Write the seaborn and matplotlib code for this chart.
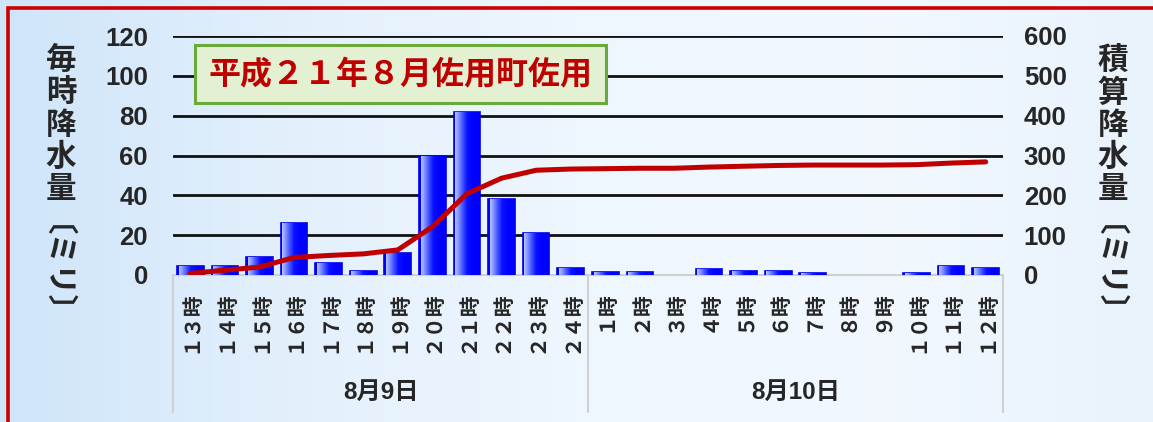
import numpy as np
import matplotlib
matplotlib.use("Agg")
import matplotlib.pyplot as plt
import matplotlib.transforms as mtrans
from matplotlib.patches import Rectangle
from matplotlib.colors import LinearSegmentedColormap
import seaborn as sns
import pandas as pd

# ---------------- data ----------------
hours = ["１３時", "１４時", "１５時", "１６時", "１７時", "１８時", "１９時", "２０時",
         "２１時", "２２時", "２３時", "２４時",
         "１時", "２時", "３時", "４時", "５時", "６時", "７時", "８時", "９時",
         "１０時", "１１時", "１２時"]
hourly = [4.5, 4.5, 9, 26, 6, 2, 11, 60, 82, 38, 21, 3.5,
          1.5, 1.5, 0, 3, 2, 2, 1, 0, 0, 1, 4.5, 3.5]
cumulative = [4, 12, 20, 44, 49, 53, 63, 121, 204, 243, 263, 266,
              267, 268, 268, 271, 273, 275, 276, 276, 276, 277, 281, 284]
dates = ["8月9日", "8月10日"]
hours_per_date = [12, 12]
left_ticks = [0, 20, 40, 60, 80, 100, 120]
right_ticks = [0, 100, 200, 300, 400, 500, 600]
title_text = "平成２１年８月佐用町佐用"
left_label = "毎時降水量"
right_label = "積算降水量"
unit_label = "〔ミリ〕"

# ---------------- style ----------------
sns.set_theme(style="white")
plt.rcParams["font.family"] = ["Liberation Sans", "Noto Sans CJK JP", "DejaVu Sans"]
CJK = ["Noto Sans CJK JP", "DejaVu Sans"]

W, H = 1153, 422
fig = plt.figure(figsize=(W / 100, H / 100), dpi=100)

# background gradient
bg = fig.add_axes([0, 0, 1, 1], zorder=-10)
bg.set_axis_off()
cmap_bg = LinearSegmentedColormap.from_list(
    "bg", ["#cfe5fa", "#e3f0fc", "#eef6fe", "#f2f8fe", "#e9f3fc"])
grad = np.tile(np.linspace(0, 1, 256), (2, 1))
bg.imshow(grad, aspect="auto", cmap=cmap_bg, extent=[0, 1, 0, 1])
bg.set_xlim(0, 1)
bg.set_ylim(0, 1)
# red frame
fig.patches.append(Rectangle((7.5 / W, -0.1), 1.2, 1 - 7.5 / H + 0.1,
                             transform=fig.transFigure, fill=False,
                             edgecolor="#cc0000", linewidth=2.6, zorder=-5))

# main axes
x0, x1 = 173 / W, 1003 / W
ytop, ybot = 1 - 36 / H, 1 - 275 / H
ax = fig.add_axes([x0, ybot, x1 - x0, ytop - ybot])
ax.patch.set_alpha(0)

df = pd.DataFrame({"hour": hours, "hourly": hourly, "cumulative": cumulative})

sns.barplot(data=df, x="hour", y="hourly", order=hours, color="#0000ff",
            width=0.77, edgecolor="#0000ee", linewidth=1.2, saturation=1,
            ax=ax, zorder=3)

# gradient shading inside bars
cmap_bar = LinearSegmentedColormap.from_list(
    "bar", ["#b8c4ff", "#5a6cff", "#0a14ff", "#0000ff", "#0000ff"])
bar_grad = np.tile(np.linspace(0, 1, 64), (2, 1))
for p in list(ax.patches):
    bx, by = p.get_x(), p.get_y()
    bw, bh = p.get_width(), p.get_height()
    if bh <= 0:
        p.set_linewidth(0)
        continue
    inset = bw * 0.06
    im = ax.imshow(bar_grad, cmap=cmap_bar, aspect="auto",
                   extent=[bx + inset, bx + bw - inset, by, by + bh],
                   zorder=3.5, interpolation="bilinear")
    im.set_clip_path(p)

ax.set_xlim(-0.5, len(hours) - 0.5)
ax.set_ylim(0, 120)
ax.set_yticks(left_ticks)
ax.set_yticklabels([str(v) for v in left_ticks], fontsize=18.5, fontweight="bold",
                   family=["Liberation Sans"])
ax.tick_params(axis="y", length=0, pad=18)
ax.set_xticks(range(len(hours)))
ax.set_xticklabels(hours, rotation=90, fontsize=15, fontweight="bold", family=CJK)
ax.tick_params(axis="x", length=0, pad=11)
ax.set_xlabel("")
ax.set_ylabel("")
for s in ["top", "right", "left"]:
    ax.spines[s].set_visible(False)
ax.spines["bottom"].set_color("#d0d0d0")
ax.spines["bottom"].set_linewidth(1.5)
ax.set_axisbelow(True)
for v in left_ticks[1:]:
    ax.axhline(v, color="#111111", linewidth=2, zorder=1)

# category group separators and date labels
trans = mtrans.blended_transform_factory(ax.transData, ax.transAxes)
bounds = np.concatenate([[0], np.cumsum(hours_per_date)]) - 0.5
for b in bounds:
    ax.plot([b, b], [0, -0.575], transform=trans, color="#d0d0d0",
            linewidth=1.5, clip_on=False)
for i, d in enumerate(dates):
    c = (bounds[i] + bounds[i + 1]) / 2
    ax.text(c, -0.49, d, transform=trans, ha="center", va="center",
            fontsize=17.5, fontweight="bold", family=["Liberation Sans", "Noto Sans CJK JP"])

# secondary axis: cumulative line
ax2 = ax.twinx()
sns.pointplot(data=df, x="hour", y="cumulative", order=hours, color="#c00000",
              markers="", linestyles="-", ax=ax2)
for ln in ax2.lines:
    ln.set_linewidth(3.6)
    ln.set_solid_capstyle("round")
    ln.set_solid_joinstyle("round")
ax2.set_ylim(0, 600)
ax2.set_xlim(-0.5, len(hours) - 0.5)
ax2.set_yticks(right_ticks)
ax2.set_yticklabels([str(v) for v in right_ticks], fontsize=18.5, fontweight="bold",
                    family=["Liberation Sans"])
ax2.tick_params(axis="y", length=0, pad=15)
ax2.tick_params(axis="x", length=0, labelbottom=False)
ax2.set_xlabel("")
ax2.set_ylabel("")
for s in ["top", "right", "left", "bottom"]:
    ax2.spines[s].set_visible(False)

# title box
fig.text((188 + 613) / 2 / W, 1 - 74 / H, title_text, ha="center", va="center",
         fontsize=23, fontweight="bold", color="#c00000", family=CJK,
         bbox=dict(boxstyle="square,pad=0.42", facecolor="#e4f0d2",
                   edgecolor="#6aaa3a", linewidth=2.2))

# axis labels (vertical writing)
fig.text(61 / W, 1 - 45 / H, "\n".join(left_label), ha="center", va="top",
         fontsize=22, fontweight="bold", family=CJK, linespacing=1.0)
fig.text(39 / W, 1 - 285 / H, unit_label, ha="center", va="center",
         rotation=270, fontsize=22, fontweight="bold", family=CJK)
fig.text(1113 / W, 1 - 45 / H, "\n".join(right_label), ha="center", va="top",
         fontsize=22, fontweight="bold", family=CJK, linespacing=1.0)
fig.text(1091 / W, 1 - 285 / H, unit_label, ha="center", va="center",
         rotation=270, fontsize=22, fontweight="bold", family=CJK)

fig.savefig("out.png", dpi=100)
